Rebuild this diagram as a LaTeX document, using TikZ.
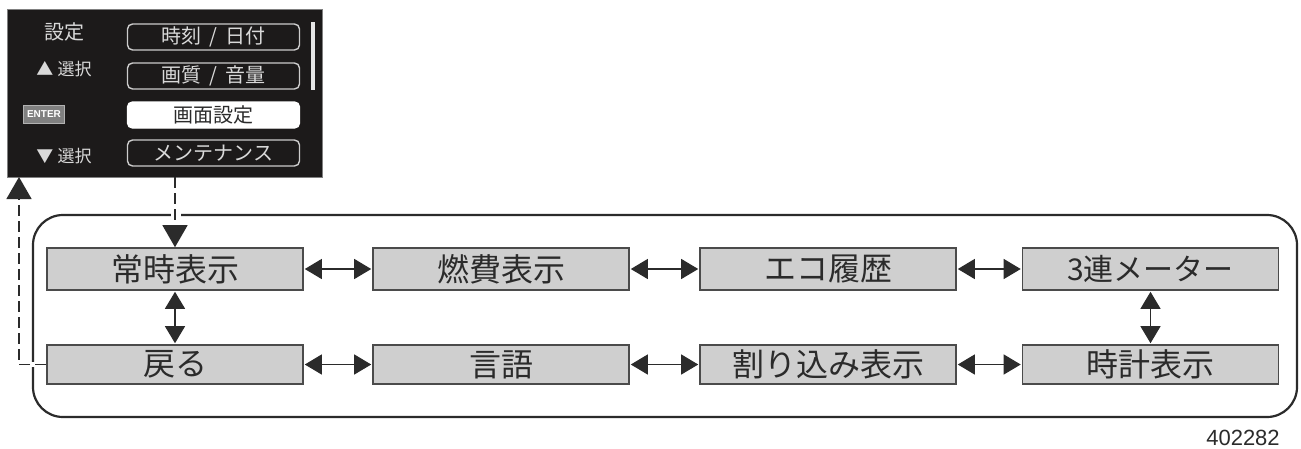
\documentclass[tikz,border=0pt]{standalone}
\usepackage{fontspec}
\setmainfont{Noto Sans CJK JP}
\newfontfamily\latinfont{Liberation Sans}
\usetikzlibrary{arrows.meta,calc}
\definecolor{boxgray}{HTML}{CFCFCF}
\definecolor{inkdark}{HTML}{2B2B2B}
\definecolor{panelblack}{HTML}{1C1A1A}
\tikzset{
  x=1pt,y=-1pt,
  menubox/.style={draw=inkdark!85!white,line width=1.6pt,fill=boxgray,minimum width=256pt,inner sep=0pt,font=\fontsize{32}{32}\selectfont,text=inkdark},
  rowone/.style={menubox,minimum height=42pt},
  rowtwo/.style={menubox,minimum height=39pt},
  twoway/.style={{Triangle[length=17pt,width=20pt]}-{Triangle[length=17pt,width=20pt]},line width=1.1pt,color=inkdark,shorten <=1pt,shorten >=1pt},
  flow/.style={dashed,dash pattern=on 11pt off 5pt,line width=1.3pt,color=inkdark,-{Triangle[length=22pt,width=25pt]}},
  panelbtn/.style={draw=white!80!black,line width=1.4pt,rounded corners=5pt,fill=panelblack,minimum width=172pt,minimum height=26pt,inner sep=0pt,text=white!85!black,font=\fontsize{20}{20}\selectfont},
  panellabel/.style={inner sep=0pt,text=white!85!black,font=\fontsize{17}{17}\selectfont},
}
\begin{document}
\begin{tikzpicture}
\useasboundingbox (0,0) rectangle (1301,448);
\node[fill=white,draw=none,minimum width=1301pt,minimum height=448pt,inner sep=0pt] (paper) at (650.5,224) {};
% outer frame
\node[draw=inkdark,line width=2.2pt,rounded corners=30pt,minimum width=1264pt,minimum height=202pt,inner sep=0pt] (frame) at (665,316) {};
% panel
\node[fill=panelblack,draw=gray,line width=.6pt,minimum width=315pt,minimum height=168pt,inner sep=0pt] (panel) at (164.5,93) {};
\node[panelbtn] (b1) at (213.5,37) {時刻\hspace{.4em}/\hspace{.4em}日付};
\node[panelbtn] (b2) at (213.5,76) {画質\hspace{.4em}/\hspace{.4em}音量};
\node[panelbtn,fill=white,draw=white,text=inkdark] (b3) at (213.5,115) {画面設定};
\node[panelbtn] (b4) at (213.5,153) {メンテナンス};
\node[panellabel,font=\fontsize{20}{20}\selectfont] (l1) at (64,32) {設定};
\node[panellabel] (l2) at (64,69) {▲\hspace{.25em}選択};
\node[panellabel] (l4) at (64,156) {▼\hspace{.25em}選択};
\node[draw=white!70!black,fill=gray,text=white,inner sep=1pt,minimum width=41pt,minimum height=18pt,font=\latinfont\bfseries\fontsize{10}{10}\selectfont] (enter) at (44,114) {ENTER};
\fill[white!90!black] (311,22) rectangle (315,90);
% menu boxes
\node[rowone] (a1) at (175,269) {常時表示};
\node[rowone] (a2) at (501,269) {燃費表示};
\node[rowone] (a3) at (828,269) {エコ履歴};
\node[rowone] (a4) at (1150.5,269) {\fontsize{30}{30}\selectfont 3連メーター};
\node[rowtwo] (c1) at (175,364.5) {戻る};
\node[rowtwo] (c2) at (501,364.5) {言語};
\node[rowtwo] (c3) at (828,364.5) {割り込み表示};
\node[rowtwo] (c4) at (1150.5,364.5) {時計表示};
% connectors
\draw[twoway] (a1) -- (a2);
\draw[twoway] (a2) -- (a3);
\draw[twoway] (a3) -- (a4);
\draw[twoway] (c1) -- (c2);
\draw[twoway] (c2) -- (c3);
\draw[twoway] (c3) -- (c4);
\draw[twoway] (a1) -- (c1);
\draw[twoway] (a4) -- (c4);
% crossing gaps in the frame
\fill[white] (171,212) rectangle (181,219);
\fill[white] (30,362) rectangle (37,366.5);
\coordinate (panelout) at (175,177);
\coordinate (panelin) at (19,177);
\draw[flow] (panelout) -- (a1.north);
\draw[flow] (c1.west) -- (19,364.5) -- (panelin);
\node[inner sep=0pt,text=inkdark,font=\latinfont\fontsize{22}{22}\selectfont] (code) at (1243,438) {402282};
\end{tikzpicture}
\end{document}
